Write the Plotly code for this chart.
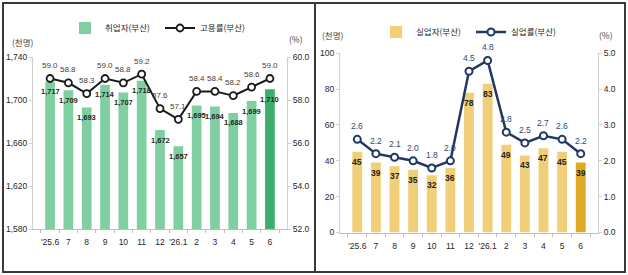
import plotly.graph_objects as go

# ---- data ----
months = ["'25.6", "7", "8", "9", "10", "11", "12", "'26.1", "2", "3", "4", "5", "6"]
employed = [1717, 1709, 1693, 1714, 1707, 1718, 1672, 1657, 1695, 1694, 1688, 1699, 1710]
emp_rate = [59.0, 58.8, 58.3, 59.0, 58.8, 59.2, 57.6, 57.1, 58.4, 58.4, 58.2, 58.6, 59.0]
unemployed = [45, 39, 37, 35, 32, 36, 78, 83, 49, 43, 47, 45, 39]
unemp_rate = [2.6, 2.2, 2.1, 2.0, 1.8, 2.0, 4.5, 4.8, 2.8, 2.5, 2.7, 2.6, 2.2]

W, H = 628, 275
FONT = "Liberation Sans, Arial, Noto Sans CJK KR, sans-serif"
KFONT = "Noto Sans CJK KR, sans-serif"
n = len(months)

green = "#80cfa1"
green_dk = "#3caf6c"
gold = "#f1cf78"
gold_dk = "#e1aa26"
navy = "#1f3864"

fig = go.Figure()

fig.add_trace(go.Bar(
    x=months, y=employed, name="취업자(부산)",
    marker=dict(color=[green] * (n - 1) + [green_dk], line=dict(width=0)),
    xaxis="x", yaxis="y", legend="legend", showlegend=True,
))
fig.add_trace(go.Scatter(
    x=months, y=emp_rate, name="고용률(부산)", mode="lines+markers",
    line=dict(color="#1a1a1a", width=2),
    marker=dict(symbol="circle", size=7, color="white", line=dict(color="#1a1a1a", width=1.8)),
    xaxis="x", yaxis="y2", legend="legend",
))
fig.add_trace(go.Bar(
    x=months, y=unemployed, name="실업자(부산)",
    marker=dict(color=[gold] * (n - 1) + [gold_dk], line=dict(width=0)),
    xaxis="x2", yaxis="y3", legend="legend2",
))
fig.add_trace(go.Scatter(
    x=months, y=unemp_rate, name="실업률(부산)", mode="lines+markers",
    line=dict(color=navy, width=2.5),
    marker=dict(symbol="circle", size=7, color="white", line=dict(color=navy, width=2)),
    xaxis="x2", yaxis="y4", legend="legend2",
))

ann = []
for i, v in enumerate(employed):
    ann.append(dict(x=i, y=v, xref="x", yref="y", text=f"{v:,}", showarrow=False,
                    yshift=-10, font=dict(family=FONT, size=7.5, color="#1e2a1e", weight="bold")))
for i, v in enumerate(emp_rate):
    ann.append(dict(x=i, y=v, xref="x", yref="y2", text=f"{v:.1f}", showarrow=False,
                    yshift=13, font=dict(family=FONT, size=8, color="#404040")))
for i, v in enumerate(unemployed):
    ann.append(dict(x=i, y=v, xref="x2", yref="y3", text=f"{v}", showarrow=False,
                    yshift=-10, font=dict(family=FONT, size=8.5, color="#222222", weight="bold")))
for i, v in enumerate(unemp_rate):
    ann.append(dict(x=i, y=v, xref="x2", yref="y4", text=f"{v:.1f}", showarrow=False,
                    yshift=13, font=dict(family=FONT, size=8.5, color="#2d4a78")))

# unit labels
for txt, x, y in [("(천명)", 23, 42), ("(%)", 296, 39), ("(천명)", 333, 35), ("(%)", 606, 35)]:
    ann.append(dict(x=x / W, y=1 - y / H, xref="paper", yref="paper", text=txt, showarrow=False,
                    xanchor="center", yanchor="middle", font=dict(family=KFONT, size=8.5, color="#404040")))

tickfont = dict(family=FONT, size=8.5, color="#262626")
axcommon = dict(showgrid=False, zeroline=False, showline=True, linecolor="#d0d0d0", linewidth=1,
                ticks="outside", ticklen=3, tickcolor="#d0d0d0", tickfont=tickfont, automargin=False,
                tickangle=0)
xcommon = {**axcommon, "linecolor": "#bfbfbf", "tickcolor": "#bfbfbf", "ticklabelstandoff": 5}

fig.update_layout(
    width=W, height=H,
    margin=dict(l=0, r=0, t=0, b=0),
    paper_bgcolor="white", plot_bgcolor="white",
    bargap=0.47,
    xaxis=dict(domain=[33 / W, 287 / W], anchor="y", type="category", tickson="boundaries", **xcommon),
    yaxis=dict(domain=[1 - 229 / H, 1 - 57 / H], anchor="x", range=[1580, 1740], tick0=1580, dtick=40,
               tickformat=",", **axcommon),
    yaxis2=dict(overlaying="y", anchor="x", side="right", range=[52, 60], tick0=52, dtick=2,
                tickformat=".1f", **axcommon),
    xaxis2=dict(domain=[340 / W, 598 / W], anchor="y3", type="category", tickson="boundaries", **xcommon),
    yaxis3=dict(domain=[1 - 232.5 / H, 1 - 53.3 / H], anchor="x2", range=[0, 100], tick0=0, dtick=20,
                **axcommon),
    yaxis4=dict(overlaying="y3", anchor="x2", side="right", range=[0, 5], tick0=0, dtick=1,
                tickformat=".1f", **axcommon),
    legend=dict(orientation="h", x=160 / W, y=1 - 28 / H, xanchor="center", yanchor="middle",
                font=dict(family=KFONT, size=8.5, color="#262626"), bgcolor="rgba(0,0,0,0)",
                itemwidth=30, entrywidth=50, tracegroupgap=0),
    legend2=dict(orientation="h", x=471 / W, y=1 - 32 / H, xanchor="center", yanchor="middle",
                 font=dict(family=KFONT, size=8.5, color="#262626"), bgcolor="rgba(0,0,0,0)",
                 itemwidth=30, entrywidth=50, tracegroupgap=0),
    annotations=ann,
    shapes=[
        dict(type="rect", xref="paper", yref="paper", x0=3 / W, x1=315 / W, y0=1 - 272 / H, y1=1 - 3 / H,
             line=dict(color="#3a3a3a", width=2), fillcolor="rgba(0,0,0,0)", layer="above"),
        dict(type="rect", xref="paper", yref="paper", x0=315 / W, x1=625 / W, y0=1 - 272 / H, y1=1 - 3 / H,
             line=dict(color="#3a3a3a", width=2), fillcolor="rgba(0,0,0,0)", layer="above"),
    ],
)

fig.write_html("out.html")
